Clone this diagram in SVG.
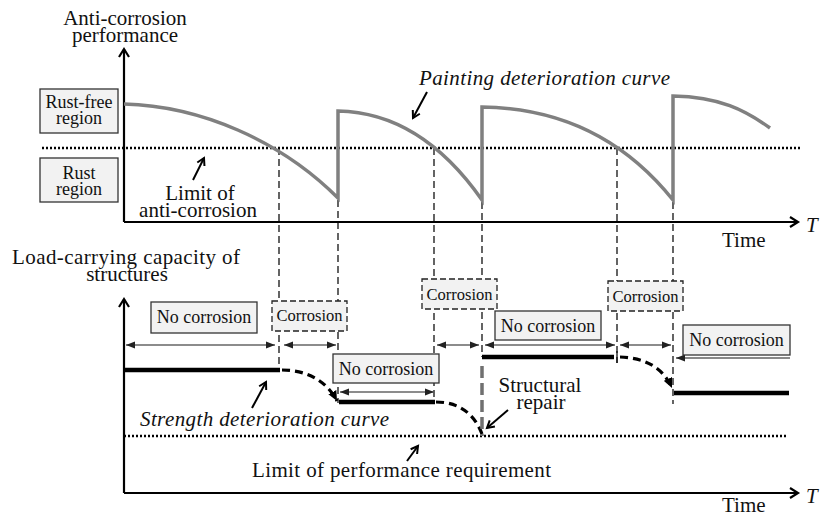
<svg xmlns="http://www.w3.org/2000/svg" width="821" height="517" viewBox="0 0 821 517" font-family="'Liberation Serif', 'DejaVu Serif', serif">
<style>
text{font-family:'Liberation Serif','DejaVu Serif',serif;fill:#111}
.lbl{font-size:21px}
.it{font-style:italic}
.bx{fill:#f2f2f2;stroke:#333;stroke-width:1.3}
.bxd{fill:#f2f2f2;stroke:#222;stroke-width:1.3;stroke-dasharray:6,3}
.bt{font-size:18px;text-anchor:middle}
.ct{font-size:16.5px;text-anchor:middle}
.axis{stroke:#000;stroke-width:2.2;fill:none}
.paint{stroke:#808080;stroke-width:3.5;fill:none;stroke-linejoin:miter}
.vd{stroke:#111;stroke-width:1.3;stroke-dasharray:7,4;fill:none}
.dot{stroke:#000;stroke-width:2.5;stroke-dasharray:2,2;fill:none}
.dbl{stroke:#666;stroke-width:1.3;fill:none}
.str{stroke:#000;stroke-width:4.5;fill:none}
.sdash{stroke:#000;stroke-width:3.2;stroke-dasharray:8,5;fill:none}
.ann{stroke:#000;stroke-width:2;fill:none}
</style>
<defs>
<marker id="mAxis" markerUnits="userSpaceOnUse" markerWidth="14" markerHeight="14" refX="9" refY="6" orient="auto" viewBox="0 0 14 12">
<path d="M1,1 L9,6 L1,11" fill="none" stroke="#000" stroke-width="2.2"/>
</marker>
<marker id="mAnn" markerUnits="userSpaceOnUse" markerWidth="12" markerHeight="12" refX="8" refY="5" orient="auto" viewBox="0 0 12 10">
<path d="M1,1 L8,5 L1,9" fill="none" stroke="#000" stroke-width="2"/>
</marker>
<marker id="mTri" markerUnits="userSpaceOnUse" markerWidth="10" markerHeight="8" refX="9" refY="4" orient="auto-start-reverse" viewBox="0 0 10 8">
<path d="M0,0.5 L9,4 L0,7.5 Z" fill="#222"/>
</marker>
<marker id="mBig" markerUnits="userSpaceOnUse" markerWidth="12" markerHeight="10" refX="10" refY="5" orient="auto" viewBox="0 0 12 10">
<path d="M0,0.5 L10,5 L0,9.5 Z" fill="#000"/>
</marker>
</defs>

<g id="connectors">
<line class="vd" x1="279" y1="148" x2="279" y2="370"/>
<line class="vd" x1="338" y1="200" x2="338" y2="403"/>
<line class="vd" x1="434" y1="148" x2="434" y2="403"/>
<line class="vd" x1="482" y1="202" x2="482" y2="357"/>
<line class="vd" x1="617" y1="148" x2="617" y2="363"/>
<line class="vd" x1="673" y1="202" x2="673" y2="404"/>
<path class="axis" d="M124,222 L124,49" marker-end="url(#mAxis)"/>
<path class="axis" d="M124,222 L798,222" marker-end="url(#mAxis)"/>
<path class="axis" d="M124,493 L124,299" marker-end="url(#mAxis)"/>
<path class="axis" d="M124,493 L798,493" marker-end="url(#mAxis)"/>
<line class="dot" x1="42" y1="148" x2="800" y2="148"/>
<line class="dot" x1="124" y1="436" x2="787" y2="436"/>
<path class="paint" d="M124,104 C200,106 280,140 338,198 L338,111 C392,112 440,140 482,200 L482,107 C562,108 625,140 673,200 L673,96 C720,97 745,110 770,128"/>
<line class="str" x1="124" y1="370" x2="280" y2="370"/>
<line class="str" x1="339" y1="402" x2="435" y2="402"/>
<line class="str" x1="482" y1="357" x2="614" y2="357"/>
<line class="str" x1="674" y1="393" x2="789" y2="393"/>
<line stroke="#111" stroke-width="1.3" x1="617" y1="351" x2="617" y2="363"/>
<path class="sdash" d="M282,370 C306,370 326,380 337,401" marker-end="url(#mBig)"/>
<path class="sdash" d="M436,402 C460,402 475,415 482,434"/>
<path class="sdash" d="M620,357 C646,358 663,368 672,388" marker-end="url(#mBig)"/>
<line stroke="#707070" stroke-width="3.5" stroke-dasharray="12,5" x1="482" y1="366" x2="482" y2="436"/>
<line class="dbl" x1="126" y1="345" x2="275" y2="345" marker-start="url(#mTri)" marker-end="url(#mTri)"/>
<line class="dbl" x1="284" y1="345" x2="336" y2="345" marker-start="url(#mTri)" marker-end="url(#mTri)"/>
<line class="dbl" x1="340" y1="392" x2="434" y2="392" marker-start="url(#mTri)" marker-end="url(#mTri)"/>
<line class="dbl" x1="437" y1="345" x2="479" y2="345" marker-start="url(#mTri)" marker-end="url(#mTri)"/>
<line class="dbl" x1="485" y1="345" x2="615" y2="345" marker-start="url(#mTri)" marker-end="url(#mTri)"/>
<line class="dbl" x1="620" y1="345" x2="671" y2="345" marker-start="url(#mTri)" marker-end="url(#mTri)"/>
<line stroke="#888" stroke-width="2" x1="790" y1="358" x2="676" y2="358" marker-end="url(#mTri)"/>
<path class="ann" d="M427,92 L413,118" marker-end="url(#mAnn)"/>
<path class="ann" d="M193,180 L204,158" marker-end="url(#mAnn)"/>
<path class="ann" d="M252,408 L266,382" marker-end="url(#mAnn)"/>
<path class="ann" d="M407,461 L418,446" marker-end="url(#mAnn)"/>
<path class="ann" d="M508,410 L487,428" marker-end="url(#mAnn)"/>
</g>

<g id="axis-top-label"><text class="lbl" x="125" y="25" text-anchor="middle">Anti-corrosion</text><text class="lbl" x="125" y="42" text-anchor="middle">performance</text></g>
<g id="axis-bottom-label"><text class="lbl" x="126" y="264" text-anchor="middle" textLength="228">Load-carrying capacity of</text><text class="lbl" x="127" y="281" text-anchor="middle">structures</text></g>
<g id="time-top"><text class="lbl it" x="806" y="232">T</text><text class="lbl" x="722" y="247">Time</text></g>
<g id="time-bottom"><text class="lbl it" x="806" y="503">T</text><text class="lbl" x="722" y="512">Time</text></g>

<g id="rust-free"><rect class="bx" x="40" y="89" width="78" height="44"/><text class="bt" x="79" y="108">Rust-free</text><text class="bt" x="79" y="124">region</text></g>
<g id="rust"><rect class="bx" x="40" y="158" width="78" height="44"/><text class="bt" x="79" y="179">Rust</text><text class="bt" x="79" y="195">region</text></g>

<g id="limit-anti"><text class="lbl" x="200" y="200" text-anchor="middle">Limit of</text><text class="lbl" x="198" y="217" text-anchor="middle">anti-corrosion</text></g>
<g id="painting-label"><text class="lbl it" x="419" y="85" textLength="251">Painting deterioration curve</text></g>
<g id="strength-label"><text class="lbl it" x="140" y="426" textLength="249">Strength deterioration curve</text></g>
<g id="limit-perf"><text class="lbl" x="252" y="477" textLength="299">Limit of performance requirement</text></g>
<g id="repair-label"><text class="lbl" x="540" y="392" text-anchor="middle">Structural</text><text class="lbl" x="541" y="409" text-anchor="middle">repair</text></g>

<g id="nocorr-1"><rect class="bx" x="151" y="302" width="106" height="31"/><text class="bt" x="204" y="323">No corrosion</text></g>
<g id="corr-1"><rect class="bxd" x="272" y="301" width="75" height="30"/><text class="ct" x="309.5" y="321">Corrosion</text></g>
<g id="nocorr-2"><rect class="bx" x="333" y="354" width="106" height="29"/><text class="bt" x="386" y="375">No corrosion</text></g>
<g id="corr-2"><rect class="bxd" x="422" y="279" width="75" height="30"/><text class="ct" x="459.5" y="300">Corrosion</text></g>
<g id="nocorr-3"><rect class="bx" x="495" y="311" width="106" height="29"/><text class="bt" x="548" y="332">No corrosion</text></g>
<g id="corr-3"><rect class="bxd" x="608" y="281" width="75" height="30"/><text class="ct" x="645.5" y="302">Corrosion</text></g>
<g id="nocorr-4"><rect class="bx" x="683" y="325" width="107" height="30"/><text class="bt" x="736.5" y="346">No corrosion</text></g>
</svg>
